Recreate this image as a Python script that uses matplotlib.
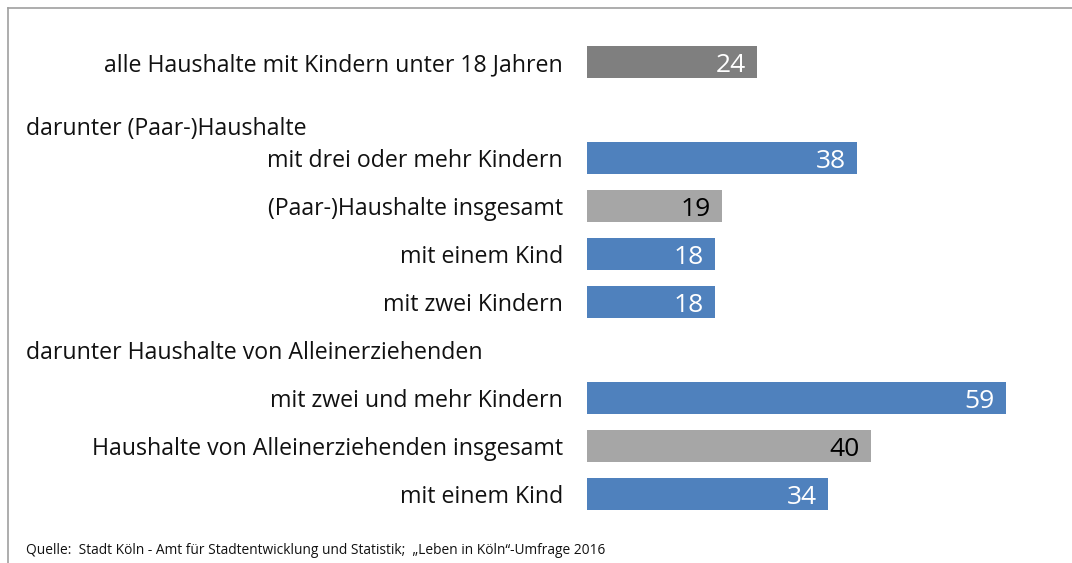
import matplotlib
matplotlib.use('Agg')
import matplotlib.pyplot as plt
from matplotlib.lines import Line2D

# Anteil in Prozent
labels = ['alle Haushalte mit Kindern unter 18 Jahren',
          'mit drei oder mehr Kindern',
          '(Paar-)Haushalte insgesamt',
          'mit einem Kind',
          'mit zwei Kindern',
          'mit zwei und mehr Kindern',
          'Haushalte von Alleinerziehenden insgesamt',
          'mit einem Kind']
values = [24, 38, 19, 18, 18, 59, 40, 34]
kinds = ['total', 'sub', 'group', 'sub', 'sub', 'sub', 'group', 'sub']
headings = ['darunter (Paar-)Haushalte', 'darunter Haushalte von Alleinerziehenden']
source = 'Quelle:  Stadt Köln - Amt für Stadtentwicklung und Statistik;  „Leben in Köln“-Umfrage 2016'

rows = [0, 2, 3, 4, 5, 7, 8, 9]
heading_rows = [1.33, 6]
bar_colors = {'total': '#7f7f7f', 'sub': '#4f81bd', 'group': '#a6a6a6'}
text_colors = {'total': 'white', 'sub': 'white', 'group': 'black'}

plt.rcParams['font.family'] = ['Open Sans', 'DejaVu Sans']

W, H = 1072, 563
fig = plt.figure(figsize=(W / 100, H / 100), dpi=100)
ax = fig.add_axes([0, 0, 1, 1])

px_per_unit = 7.1
x0 = 587
row0, row_h = 62, 48
ax.set_xlim(-x0 / px_per_unit, (W - x0) / px_per_unit)
ax.set_ylim((H - row0) / row_h, -row0 / row_h)
ax.axis('off')

label_x = (563 - x0) / px_per_unit
head_x = (26 - x0) / px_per_unit
pad = 11 / px_per_unit

for r, lab, v, k in zip(rows, labels, values, kinds):
    ax.barh(r, v, height=32 / row_h, color=bar_colors[k])
    ax.text(label_x, r, lab, ha='right', va='center_baseline', fontsize=16.7, color='#111111')
    ax.text(v - pad, r, str(v), ha='right', va='center_baseline', fontsize=19, color=text_colors[k])

for r, h in zip(heading_rows, headings):
    ax.text(head_x, r, h, ha='left', va='center_baseline', fontsize=16.7, color='#111111')

ax.text(head_x, (548 - row0) / row_h, source, ha='left', va='center_baseline', fontsize=9.9, color='#111111')

# Rahmen oben und links
fig.add_artist(Line2D([8 / W, 1], [1 - 8 / H, 1 - 8 / H], color='#a0a0a0', lw=1.2))
fig.add_artist(Line2D([8 / W, 8 / W], [0, 1 - 8 / H], color='#a0a0a0', lw=1.2))

fig.savefig('out.png', dpi=100)
